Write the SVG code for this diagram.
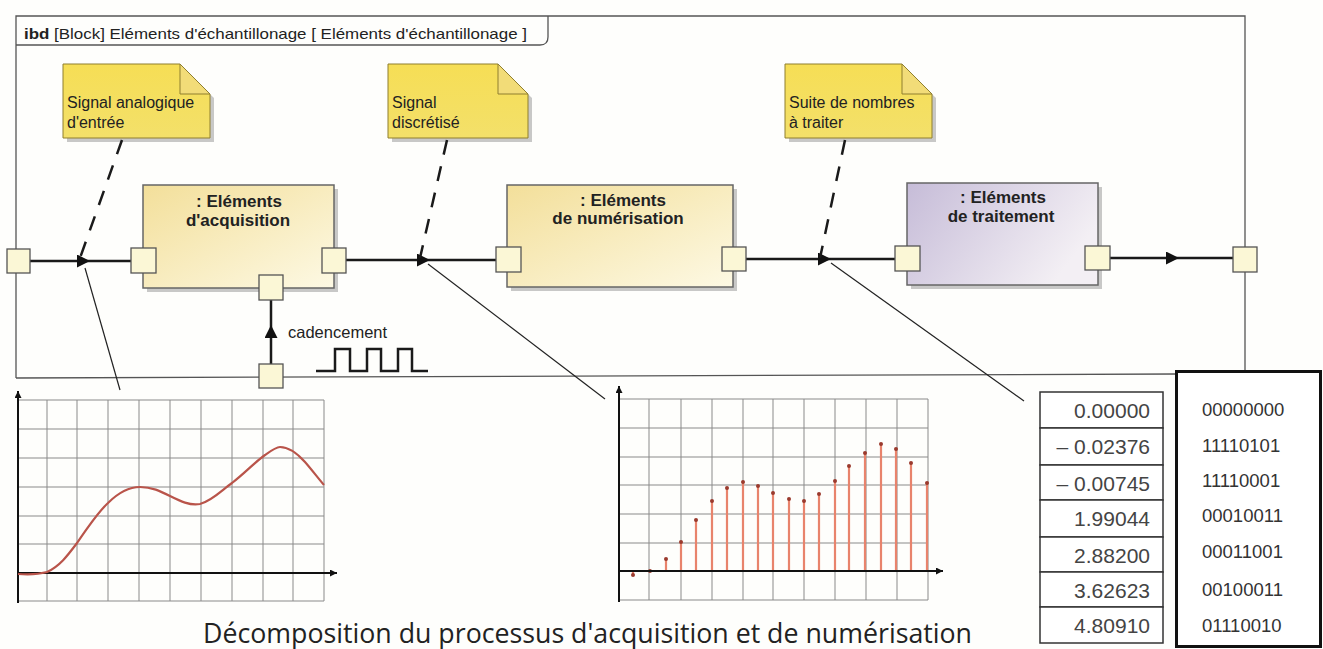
<svg xmlns="http://www.w3.org/2000/svg" width="1323" height="649" viewBox="0 0 1323 649">
<defs>
<style>
.frame{fill:none;stroke:#555;stroke-width:1.3}
.port{fill:#fbf7d6;stroke:#555;stroke-width:1.3}
.conn{fill:none;stroke:#1a1a1a;stroke-width:2.5}
.dash{fill:none;stroke:#1a1a1a;stroke-width:2.5;stroke-dasharray:15 12}
.leader{fill:none;stroke:#222;stroke-width:1.2}
.note{fill:url(#noteGrad);stroke:#8f7f2f;stroke-width:1}
.fold{fill:#f2dc78;stroke:#8f7f2f;stroke-width:1}
.shadow{fill:#9a9a9a;opacity:0.55}
.block{stroke:#666;stroke-width:1.5}
.txt{font-family:"Liberation Sans",Arial,sans-serif;fill:#222}
.ntxt{font-family:"Liberation Sans",Arial,sans-serif;font-size:16px;fill:#222}
.btitle{font-family:"Liberation Sans",Arial,sans-serif;font-weight:bold;font-size:17px;fill:#222;text-anchor:middle}
.grid{stroke:#8a8a8a;stroke-width:1;fill:none}
.axis{stroke:#111;stroke-width:2;fill:none}
.curve{fill:none;stroke:#b9544a;stroke-width:2.2}
.stem{stroke:#e8836c;stroke-width:2.2}
.dot{fill:#9a3a2e}
.num{font-family:"Liberation Sans",Arial,sans-serif;font-size:21px;fill:#444;text-anchor:end}
.bin{font-family:"Liberation Sans",Arial,sans-serif;font-size:18.5px;fill:#333}
.cell{fill:#fff;stroke:#333;stroke-width:1.5}
</style>
<linearGradient id="noteGrad" x1="0" y1="0" x2="0" y2="1">
<stop offset="0" stop-color="#f6de55"/>
<stop offset="1" stop-color="#f3e06a"/>
</linearGradient>
<linearGradient id="yelGrad" x1="0" y1="0" x2="1" y2="1">
<stop offset="0" stop-color="#f3df9a"/>
<stop offset="1" stop-color="#fdf9e4"/>
</linearGradient>
<linearGradient id="lavGrad" x1="0" y1="0" x2="1" y2="0.4">
<stop offset="0" stop-color="#c6bcd8"/>
<stop offset="1" stop-color="#f3eff4"/>
</linearGradient>
<marker id="tri" viewBox="0 0 10 10" refX="10" refY="5" markerWidth="16" markerHeight="13" markerUnits="userSpaceOnUse" orient="auto">
<path d="M0,0 L10,5 L0,10 z" fill="#111"/>
</marker>
<marker id="ax" viewBox="0 0 10 10" refX="10" refY="5" markerWidth="8" markerHeight="7" markerUnits="userSpaceOnUse" orient="auto">
<path d="M0,0 L10,5 L0,10 z" fill="#111"/>
</marker>
</defs>
<rect x="0" y="0" width="1323" height="649" fill="#fefefc"/>

<g id="frame">
<path class="frame" d="M16,378 V16 H1245 V370"/>
<path class="frame" d="M16,378 L1175,374"/>
<path class="frame" d="M16,45 H540 Q548,45 548,37 V16"/>
<text class="txt" x="24" y="39" font-size="15" textLength="503" lengthAdjust="spacingAndGlyphs"><tspan font-weight="bold">ibd</tspan> [Block] Eléments d'échantillonage [ Eléments d'échantillonage ]</text>
</g>

<g id="note-1">
<path class="shadow" d="M67,68 H183 L214,98 V142 H67 z"/>
<path class="note" d="M63,64 H180 L210,94 V138 H63 z"/>
<path class="fold" d="M180,64 V94 H210 z"/>
<text class="ntxt" x="67" y="108">Signal analogique</text>
<text class="ntxt" x="67" y="128">d'entrée</text>
</g>
<g id="note-2">
<path class="shadow" d="M392,68 H501 L532,98 V142 H392 z"/>
<path class="note" d="M388,64 H498 L528,94 V138 H388 z"/>
<path class="fold" d="M498,64 V94 H528 z"/>
<text class="ntxt" x="392" y="108">Signal</text>
<text class="ntxt" x="392" y="128">discrétisé</text>
</g>
<g id="note-3">
<path class="shadow" d="M789,68 H905 L936,98 V142 H789 z"/>
<path class="note" d="M785,64 H902 L932,94 V138 H785 z"/>
<path class="fold" d="M902,64 V94 H932 z"/>
<text class="ntxt" x="789" y="108">Suite de nombres</text>
<text class="ntxt" x="789" y="128">à traiter</text>
</g>

<g id="connectors">
<path class="conn" d="M30,261 L90,261 L131,261" marker-mid="url(#tri)"/>
<path class="conn" d="M346,260 L430,260 L496,260" marker-mid="url(#tri)"/>
<path class="conn" d="M746,259 L831,259 L895,259" marker-mid="url(#tri)"/>
<path class="conn" d="M1110,258 L1179,258 L1233,258" marker-mid="url(#tri)"/>
<path class="conn" d="M271,364 L271,325 L271,300" marker-mid="url(#tri)"/>
<path class="dash" d="M122,140 L80,258"/>
<path class="dash" d="M447,140 L420,258"/>
<path class="dash" d="M845,140 L820,258"/>
<path class="leader" d="M85,268 L120,390"/>
<path class="leader" d="M428,264 L605,399"/>
<path class="leader" d="M831,263 L1024,401"/>
</g>

<g id="port-in">
<rect class="port" x="7" y="249" width="23" height="24"/>
</g>
<g id="block-acquisition">
<rect class="shadow" x="147" y="189" width="191" height="103"/>
<rect class="block" x="143" y="185" width="191" height="103" fill="url(#yelGrad)"/>
<text class="btitle" x="239" y="207">: Eléments</text>
<text class="btitle" x="238" y="226">d'acquisition</text>
<rect class="port" x="131" y="248" width="25" height="25"/>
<rect class="port" x="322" y="248" width="24" height="25"/>
<rect class="port" x="259" y="275" width="24" height="25"/>
</g>
<g id="port-clock">
<rect class="port" x="259" y="364" width="24" height="24"/>
<text class="txt" x="288" y="338" font-size="16.5">cadencement</text>
<path class="conn" d="M316,371 H335 V349 H350 V371 H367 V349 H381 V371 H398 V349 H412 V371 H428"/>
</g>
<g id="block-numerisation">
<rect class="shadow" x="511" y="189" width="226" height="102"/>
<rect class="block" x="507" y="185" width="226" height="102" fill="url(#yelGrad)"/>
<text class="btitle" x="623" y="206">: Eléments</text>
<text class="btitle" x="618" y="224">de numérisation</text>
<rect class="port" x="496" y="247" width="25" height="25"/>
<rect class="port" x="722" y="247" width="24" height="24"/>
</g>
<g id="block-traitement">
<rect class="shadow" x="911" y="187" width="191" height="102"/>
<rect class="block" x="907" y="183" width="191" height="102" fill="url(#lavGrad)"/>
<text class="btitle" x="1003" y="203">: Eléments</text>
<text class="btitle" x="1001" y="222">de traitement</text>
<rect class="port" x="895" y="246" width="25" height="25"/>
<rect class="port" x="1085" y="246" width="25" height="24"/>
</g>
<g id="port-out">
<rect class="port" x="1233" y="247" width="24" height="25"/>
</g>

<g id="graph-analog">
<path class="grid" d="M47,400V601M77,400V601M108,400V601M139,400V601M170,400V601M201,400V601M232,400V601M263,400V601M293,400V601M324,400V601M18,400H324M18,429H324M18,458H324M18,487H324M18,516H324M18,544H324M18,601H324"/>
<path class="axis" d="M18,603 V391" marker-end="url(#ax)"/>
<path class="axis" d="M18,573 H337" marker-end="url(#ax)"/>
<path class="curve" d="M18,574 C30,575 40,574 47,572 C60,566 68,555 77,543 C88,527 98,512 108,503 C118,493 128,487 140,487 C152,487 160,491 170,496 C180,501 190,506 200,504 C212,501 222,490 232,483 C245,473 255,462 265,455 C272,450 276,447 280,447 C288,447 296,452 305,462 C312,470 318,478 324,485"/>
</g>

<g id="graph-discrete">
<path class="grid" d="M649,399V600M681,399V600M712,399V600M743,399V600M773,399V600M804,399V600M835,399V600M866,399V600M897,399V600M928,399V600M619,399H928M619,428H928M619,457H928M619,485H928M619,514H928M619,543H928M619,600H928"/>
<path class="stem" d="M633,571V575M666,571V559M681,571V542M696,571V520M712,571V501M727,571V488M743,571V482M758,571V486M773,571V493M789,571V499M804,571V501M819,571V494M835,571V481M849,571V466M865,571V453M881,571V444M896,571V449M911,571V463M927,571V483"/>
<g class="dot">
<circle cx="633" cy="575" r="2"/><circle cx="650" cy="571" r="2"/><circle cx="666" cy="559" r="2"/><circle cx="681" cy="542" r="2"/><circle cx="696" cy="520" r="2"/><circle cx="712" cy="501" r="2"/><circle cx="727" cy="488" r="2"/><circle cx="743" cy="482" r="2"/><circle cx="758" cy="486" r="2"/><circle cx="773" cy="493" r="2"/><circle cx="789" cy="499" r="2"/><circle cx="804" cy="501" r="2"/><circle cx="819" cy="494" r="2"/><circle cx="835" cy="481" r="2"/><circle cx="849" cy="466" r="2"/><circle cx="865" cy="453" r="2"/><circle cx="881" cy="444" r="2"/><circle cx="896" cy="449" r="2"/><circle cx="911" cy="463" r="2"/><circle cx="927" cy="483" r="2"/>
</g>
<path class="axis" d="M619,602 V386" marker-end="url(#ax)"/>
<path class="axis" d="M619,571 H943" marker-end="url(#ax)"/>
</g>

<g id="table-values">
<rect class="cell" x="1040" y="392" width="123" height="36"/>
<rect class="cell" x="1040" y="428" width="123" height="37"/>
<rect class="cell" x="1040" y="465" width="123" height="35"/>
<rect class="cell" x="1040" y="500" width="123" height="37"/>
<rect class="cell" x="1040" y="537" width="123" height="35"/>
<rect class="cell" x="1040" y="572" width="123" height="35"/>
<rect class="cell" x="1040" y="607" width="123" height="36"/>
<text class="num" x="1150" y="418">0.00000</text>
<text class="num" x="1150" y="454">– 0.02376</text>
<text class="num" x="1150" y="491">– 0.00745</text>
<text class="num" x="1150" y="526">1.99044</text>
<text class="num" x="1150" y="563">2.88200</text>
<text class="num" x="1150" y="598">3.62623</text>
<text class="num" x="1150" y="633">4.80910</text>
</g>

<g id="table-binary">
<rect x="1176.5" y="371.5" width="144" height="275" fill="#fff" stroke="#111" stroke-width="3"/>
<text class="bin" x="1202" y="416">00000000</text>
<text class="bin" x="1202" y="452">11110101</text>
<text class="bin" x="1202" y="487">11110001</text>
<text class="bin" x="1202" y="522">00010011</text>
<text class="bin" x="1202" y="558">00011001</text>
<text class="bin" x="1202" y="596">00100011</text>
<text class="bin" x="1202" y="632">01110010</text>
</g>

<text id="caption" x="203" y="643" font-family="'Open Sans','Noto Sans',sans-serif" font-size="27" fill="#222" textLength="769" lengthAdjust="spacingAndGlyphs">Décomposition du processus d'acquisition et de numérisation</text>
</svg>
